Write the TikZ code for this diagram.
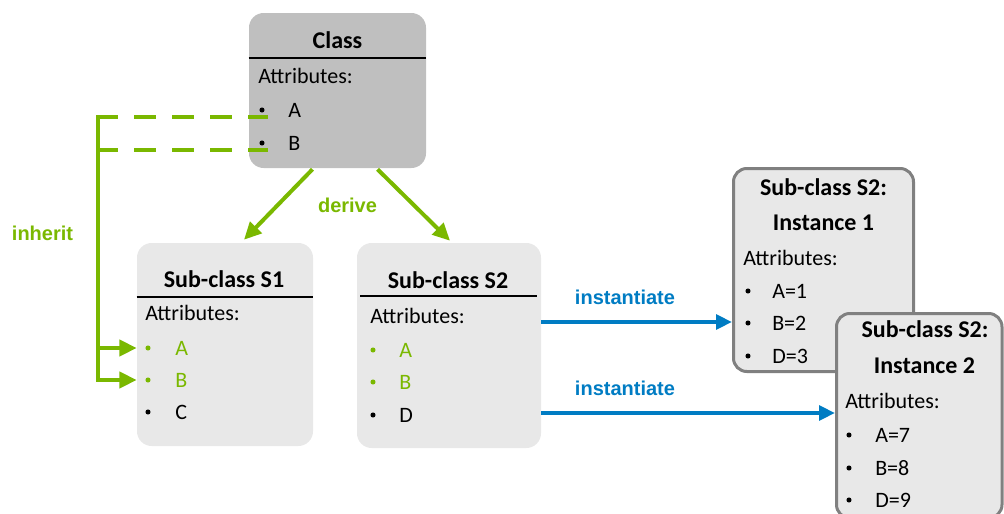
\documentclass[tikz,border=0pt]{standalone}
\usepackage{fontspec}
\setmainfont{Carlito}
\newfontfamily\labelfont{Liberation Sans}
\usetikzlibrary{arrows.meta,calc,fit,positioning}

\definecolor{leafgreen}{RGB}{122,184,0}
\definecolor{linkblue}{RGB}{0,124,195}
\definecolor{classgray}{RGB}{191,191,191}
\definecolor{subgray}{RGB}{232,232,232}
\definecolor{framegray}{RGB}{128,128,128}

\tikzset{
  classbox/.style={rounded corners=11pt, inner sep=0pt, fill=classgray},
  subbox/.style={rounded corners=11pt, inner sep=0pt, fill=subgray},
  instbox/.style={rounded corners=10pt, inner sep=0pt, fill=subgray, draw=framegray, line width=2.25pt},
  title/.style={font=\fontsize{18}{21}\selectfont\bfseries, anchor=base, inner sep=0pt},
  attr/.style={font=\fontsize{16.5}{19}\selectfont, anchor=base west, inner sep=0pt},
  dot/.style={circle, fill=black, inner sep=0pt, minimum size=3.8pt},
  greendot/.style={dot, fill=leafgreen},
  rule/.style={line width=1.3pt},
  tag/.style={font=\labelfont\fontsize{15}{18}\selectfont\bfseries},
  greenline/.style={leafgreen, line width=3pt},
  greendash/.style={greenline, dash pattern=on 16.5pt off 12pt},
  greenarrow/.style={greenline, -{Triangle[length=13pt,width=12pt]}},
  bluearrow/.style={linkblue, line width=3pt, -{Triangle[length=12pt,width=11pt]}},
}

\begin{document}
\begin{tikzpicture}[x=0.75pt,y=-0.75pt]
\useasboundingbox (0,0) rectangle (1004,514);

% Class box
\node[classbox, fit={(249,13) (426,168)}] (class) {};
\node[title] (class-title) at (337.5,48) {Class};
\draw[rule] (class.west |- 0,58) -- (class.east |- 0,58);
\node[attr] (class-attr) at (258,83) {Attributes:};
\node[dot] (class-a-dot) at (262,110) {};
\node[attr] (class-a) at (288,117) {A};
\node[dot] (class-b-dot) at (262,143) {};
\node[attr] (class-b) at (288,150) {B};

% Sub-class S1
\node[subbox, fit={(137,243) (313,446)}] (s1) {};
\node[title] (s1-title) at (224,287) {Sub-class S1};
\draw[rule] (s1.west |- 0,297) -- (s1.east |- 0,297);
\node[attr] (s1-attr) at (145,320) {Attributes:};
\node[greendot] (s1-a-dot) at (148,348) {};
\node[attr, text=leafgreen] (s1-a) at (175,355) {A};
\node[greendot] (s1-b-dot) at (148,380) {};
\node[attr, text=leafgreen] (s1-b) at (175,387) {B};
\node[dot] (s1-c-dot) at (148,412) {};
\node[attr] (s1-c) at (175,419) {C};

% Sub-class S2
\node[subbox, fit={(357,243) (541,448)}] (s2) {};
\node[title] (s2-title) at (448,288) {Sub-class S2};
\draw[rule] (360,296) -- (537,296);
\node[attr] (s2-attr) at (370,323) {Attributes:};
\node[greendot] (s2-a-dot) at (373,350) {};
\node[attr, text=leafgreen] (s2-a) at (399,357) {A};
\node[greendot] (s2-b-dot) at (373,382) {};
\node[attr, text=leafgreen] (s2-b) at (399,389) {B};
\node[dot] (s2-d-dot) at (373,415) {};
\node[attr] (s2-d) at (399,422) {D};

% Instance 1
\node[instbox, fit={(733.5,168.5) (913.5,371.5)}] (inst1) {};
\node[title] (inst1-title) at (823.5,195) {Sub-class S2:};
\node[title] (inst1-name) at (823.5,230) {Instance 1};
\node[attr] (inst1-attr) at (743,265) {Attributes:};
\node[dot] (inst1-a-dot) at (748,291) {};
\node[attr] (inst1-a) at (772,298) {A=1};
\node[dot] (inst1-b-dot) at (748,323) {};
\node[attr] (inst1-b) at (772,330) {B=2};
\node[dot] (inst1-d-dot) at (748,356) {};
\node[attr] (inst1-d) at (772,363) {D=3};

% Instance 2 (runs off the page)
\node[instbox, fit={(836.5,313.5) (1002,518)}] (inst2) {};
\node[title] (inst2-title) at (925,337) {Sub-class S2:};
\node[title] (inst2-name) at (924.5,373) {Instance 2};
\node[attr] (inst2-attr) at (845,408) {Attributes:};
\node[dot] (inst2-a-dot) at (849,435) {};
\node[attr] (inst2-a) at (875,442) {A=7};
\node[dot] (inst2-b-dot) at (849,468) {};
\node[attr] (inst2-b) at (875,475) {B=8};
\node[dot] (inst2-d-dot) at (849,500) {};
\node[attr] (inst2-d) at (875,507) {D=9};

% derive arrows
\draw[greenarrow] ($(class.south)+(-25,1)$) -- ($(s1.north)+(19,-3)$);
\draw[greenarrow] ($(class.south)+(40,1)$) -- ($(s2.north)+(1,-2)$);
\node[tag, text=leafgreen] (derive) at (347.5,205) {derive};

% inherit lines
\coordinate (trunk) at (98,117);
\draw[greendash] ($(trunk |- class-a.base)+(-2,0)$) -- ($(class-a-dot.east |- class-a.base)+(3,0)$);
\draw[greendash] ($(trunk |- class-b.base)+(-2,0)$) -- ($(class-b-dot.east |- class-b.base)+(3,0)$);
\draw[greenarrow] ($(trunk)+(0,-2)$) -- (trunk |- s1-b-dot) -- (s1.west |- s1-b-dot);
\draw[greenarrow] (trunk |- s1-a-dot) -- (s1.west |- s1-a-dot);
\node[tag, text=leafgreen] (inherit) at (42.5,233) {inherit};

% instantiate arrows
\draw[bluearrow] (s2.east |- 0,322) -- (inst1.west |- 0,322);
\draw[bluearrow] (s2.east |- 0,413) -- (inst2.west |- 0,413);
\node[tag, text=linkblue] (inst-tag1) at (625,297) {instantiate};
\node[tag, text=linkblue] (inst-tag2) at (625,388) {instantiate};

\end{tikzpicture}
\end{document}
